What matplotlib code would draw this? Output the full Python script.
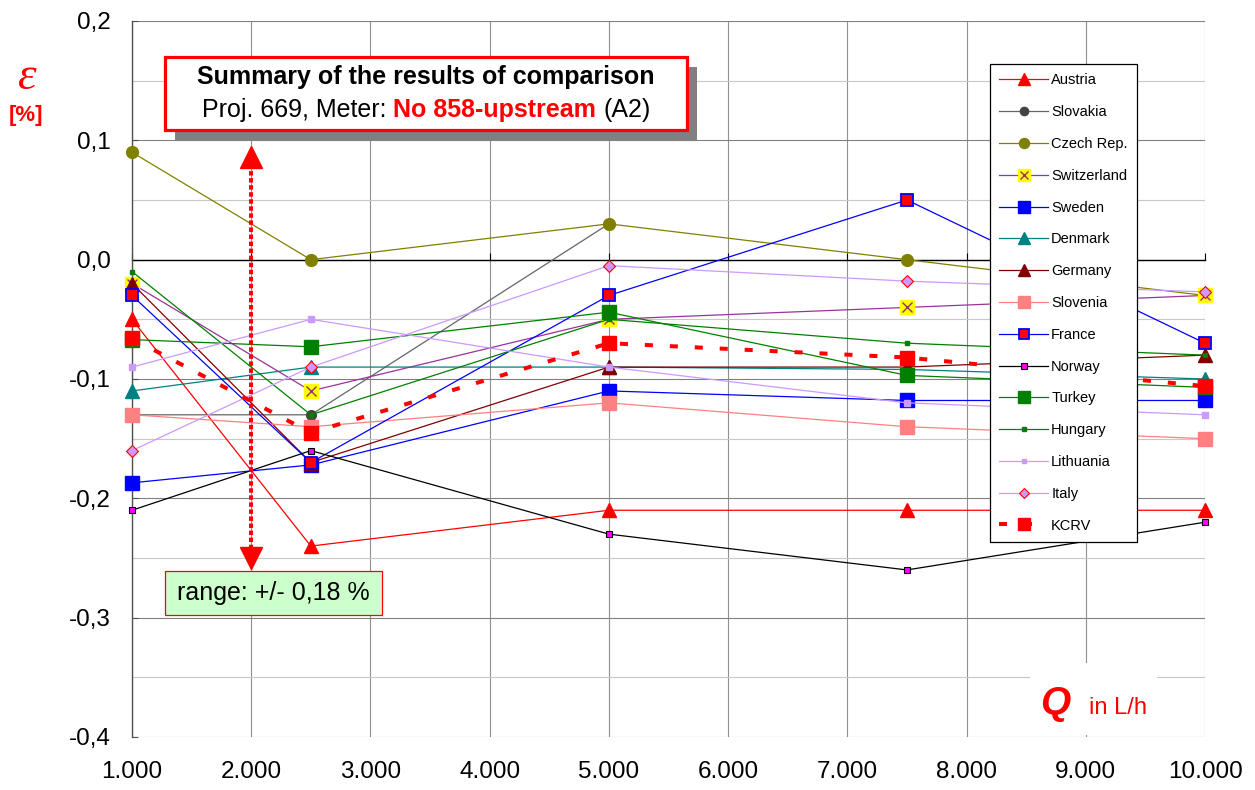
import matplotlib
matplotlib.use("Agg")
import matplotlib.pyplot as plt
from matplotlib.patches import Rectangle
from matplotlib.ticker import FixedLocator, MultipleLocator, FuncFormatter
from matplotlib.offsetbox import TextArea, HPacker, AnnotationBbox

plt.rcParams['font.family'] = ['Liberation Sans', 'DejaVu Sans']

nan = float('nan')

# flow rates (L/h) and deviations (%) per laboratory
flow_rates = [1000, 2500, 5000, 7500, 10000]
austria = [-0.05, -0.24, -0.21, -0.21, -0.21]
slovakia = [-0.13, -0.13, 0.03, nan, nan]
czech = [0.09, 0.0, 0.03, 0.0, -0.03]
switzerland = [-0.02, -0.11, -0.05, -0.04, -0.03]
sweden = [-0.187, -0.172, -0.11, -0.118, -0.118]
denmark = [-0.11, -0.09, -0.09, -0.092, -0.10]
germany = [-0.02, -0.17, -0.09, -0.09, -0.08]
slovenia = [-0.13, -0.14, -0.12, -0.14, -0.15]
france = [-0.03, -0.17, -0.03, 0.05, -0.07]
norway = [-0.21, -0.16, -0.23, -0.26, -0.22]
turkey = [-0.067, -0.073, -0.044, -0.097, -0.107]
hungary = [-0.01, -0.13, -0.05, -0.07, -0.08]
lithuania = [-0.09, -0.05, -0.09, -0.12, -0.13]
italy = [-0.16, -0.09, -0.005, -0.018, -0.027]
kcrv = [-0.066, -0.145, -0.07, -0.082, -0.106]

series_names = ["Austria", "Slovakia", "Czech Rep.", "Switzerland", "Sweden",
                "Denmark", "Germany", "Slovenia", "France", "Norway",
                "Turkey", "Hungary", "Lithuania", "Italy", "KCRV"]
series_values = [austria, slovakia, czech, switzerland, sweden,
                 denmark, germany, slovenia, france, norway,
                 turkey, hungary, lithuania, italy, kcrv]

x_ticks = [1000, 2000, 3000, 4000, 5000, 6000, 7000, 8000, 9000, 10000]
y_ticks = [-0.4, -0.3, -0.2, -0.1, 0.0, 0.1, 0.2]
x_limits = (1000, 10000)
y_limits = (-0.4, 0.2)

# spread indicator (max / min of all results)
range_x = 2000
range_top = 0.096
range_bottom = -0.26
range_text = "range: +/- 0,18 %"

# line / marker appearance for each series
styles = [
    dict(color='#FF0000', marker='^', ms=10, mfc='#FF0000', mec='#FF0000'),
    dict(color='#666666', marker='o', ms=7, mfc='#444444', mec='#444444'),
    dict(color='#808000', marker='o', ms=8.5, mfc='#808000', mec='#808000'),
    dict(color='#993399', marker='s', ms=10, mfc='#FFFF00', mec='#FFFF00'),
    dict(color='#0000FF', marker='s', ms=10, mfc='#0000FF', mec='#0000FF'),
    dict(color='#008080', marker='^', ms=9.5, mfc='#008080', mec='#008080'),
    dict(color='#800000', marker='^', ms=9.5, mfc='#800000', mec='#800000'),
    dict(color='#FF8080', marker='s', ms=9.5, mfc='#FF8080', mec='#FF8080'),
    dict(color='#0000FF', marker='s', ms=8.5, mfc='#FF0000', mec='#0000FF', mew=1.3),
    dict(color='#000000', marker='s', ms=5, mfc='#FF00FF', mec='#000000', mew=0.8),
    dict(color='#008000', marker='s', ms=9.5, mfc='#008000', mec='#008000'),
    dict(color='#008000', marker='s', ms=3, mfc='#008000', mec='#008000'),
    dict(color='#CC99FF', marker='s', ms=4, mfc='#CC99FF', mec='#CC99FF'),
    dict(color='#CC99FF', marker='D', ms=6, mfc='#CC99FF', mec='#FF0000', mew=0.8),
    dict(color='#FF0000', marker='s', ms=9.5, mfc='#FF0000', mec='#FF0000',
         lw=2.9, ls=(0, (2.0, 4.2))),
]

W, H = 1255, 790
fig = plt.figure(figsize=(W / 100, H / 100), dpi=100)
ax = fig.add_axes([132 / W, 1 - 737 / H, (1205 - 132) / W, (737 - 21) / H])
ax.set_xlim(*x_limits)
ax.set_ylim(*y_limits)
ax.set_axisbelow(True)


def fig_rect(x0, y0, x1, y1, **kw):
    """Rectangle given in figure pixels measured from the top-left corner."""
    r = Rectangle((x0 / W, 1 - y1 / H), (x1 - x0) / W, (y1 - y0) / H,
                  transform=fig.transFigure, **kw)
    fig.add_artist(r)
    return r


# axes, ticks and grid
ax.xaxis.set_major_locator(FixedLocator(x_ticks))
ax.yaxis.set_major_locator(FixedLocator(y_ticks))
ax.yaxis.set_minor_locator(MultipleLocator(0.05))
ax.xaxis.set_major_formatter(FuncFormatter(lambda v, p: f"{int(round(v)):,}".replace(",", ".")))
ax.yaxis.set_major_formatter(FuncFormatter(lambda v, p: f"{v:.1f}".replace(".", ",").replace("-0,0", "0,0")))
ax.grid(axis='y', which='major', color='#808080', lw=0.8)
ax.grid(axis='y', which='minor', color='#C8C8C8', lw=0.8)
ax.grid(axis='x', which='major', color='#909090', lw=0.8)
for s in ('top', 'right', 'bottom'):
    ax.spines[s].set_visible(False)
ax.spines['left'].set_color('#505050')
ax.spines['left'].set_linewidth(1.0)
ax.tick_params(axis='y', which='major', direction='in', length=4, color='#505050',
               labelsize=17.5, pad=15)
ax.tick_params(axis='y', which='minor', length=0)
ax.tick_params(axis='x', which='major', length=0, labelsize=17.5, pad=17)

# category axis crossing at zero
zero_pos = (0 - y_limits[0]) / (y_limits[1] - y_limits[0])
sec = ax.secondary_xaxis(zero_pos)
sec.set_xticks(x_ticks)
sec.tick_params(direction='out', length=4.8, color='black', width=0.8,
                labeltop=False, labelbottom=False)
for sp in sec.spines.values():
    sp.set_color('black')
    sp.set_linewidth(1.0)
sec.set_zorder(1)

# data series
handles = []
for i, (name, vals, st) in enumerate(zip(series_names, series_values, styles)):
    kw = dict(lw=0.9)
    kw.update(st)
    line, = ax.plot(flow_rates, vals, clip_on=False, zorder=3 + i * 0.01, **kw)
    if name == "Switzerland":
        cross, = ax.plot(flow_rates, vals, ls='none', marker='x', ms=7, mew=1.0,
                         color='#993366', clip_on=False, zorder=3 + i * 0.01 + 0.005)
        handles.append((line, cross))
    else:
        handles.append(line)

leg = ax.legend(handles, series_names, loc='upper left',
                bbox_to_anchor=(990 / W, 1 - 64 / H), bbox_transform=fig.transFigure,
                fontsize=10.5, frameon=True, fancybox=False, edgecolor='black',
                framealpha=1, handlelength=3.3, handletextpad=0.25, markerscale=0.85,
                labelspacing=1.22, borderpad=0.65, borderaxespad=0)
leg.get_frame().set_linewidth(0.9)
leg.set_zorder(10)

# spread arrow
px_per_unit = (737 - 21) / (y_limits[1] - y_limits[0])
head = 23 / px_per_unit
ax.plot([range_x, range_x], [range_top - head / 2, range_bottom + head / 2],
        color='#FF0000', lw=2.9, ls=(0, (1.1, 0.65)), zorder=6, solid_capstyle='butt',
        dash_capstyle='butt')
ax.plot([range_x], [range_top - head / 2], marker='^', ms=16, color='#FF0000',
        ls='none', zorder=7, clip_on=False)
ax.plot([range_x], [range_bottom + head / 2], marker='v', ms=16, color='#FF0000',
        ls='none', zorder=7, clip_on=False)

# range label box
fig_rect(165, 571, 382, 615, facecolor='#CCFFCC', edgecolor='#FF0000', lw=0.9, zorder=8)
fig.text(273.5 / W, 1 - 593 / H, range_text, fontsize=18, ha='center', va='center',
         color='black', zorder=9)

# title box with shadow
fig_rect(175, 67, 697, 140, facecolor='#808080', edgecolor='none', zorder=8)
fig_rect(165, 57, 687, 130, facecolor='white', edgecolor='#FF0000', lw=2.3, zorder=8.5)
fig.text(426 / W, 1 - 77 / H, "Summary of the results of comparison", fontsize=18,
         fontweight='bold', ha='center', va='center', zorder=9)
parts = [TextArea("Proj. 669, Meter:", textprops=dict(fontsize=18, color='black')),
         TextArea("No 858-upstream", textprops=dict(fontsize=18, color='#FF0000',
                                                    fontweight='bold')),
         TextArea("(A2)", textprops=dict(fontsize=18, color='black'))]
pack = HPacker(children=parts, align='baseline', pad=0, sep=5)
ab = AnnotationBbox(pack, (426, H - 110), xycoords='figure pixels', frameon=False,
                    box_alignment=(0.5, 0.5), zorder=9)
fig.add_artist(ab)

# quantity labels
fig.text(27 / W, 1 - 78 / H, "ε", fontsize=34, color='#FF0000', style='italic',
         family=['Liberation Serif', 'DejaVu Serif'], ha='center', va='center')
fig.text(26 / W, 1 - 116 / H, "[%]", fontsize=16, color='#FF0000', fontweight='bold',
         ha='center', va='center')
fig_rect(1030, 663, 1157, 735, facecolor='white', edgecolor='none', zorder=1)
fig.text(1040 / W, 1 - 714 / H, "Q", fontsize=28, color='#FF0000', fontweight='bold',
         style='italic', ha='left', va='baseline', zorder=2)
fig.text(1089 / W, 1 - 714 / H, "in L/h", fontsize=17, color='#FF0000',
         ha='left', va='baseline', zorder=2)

fig.savefig("out.png", dpi=100)
